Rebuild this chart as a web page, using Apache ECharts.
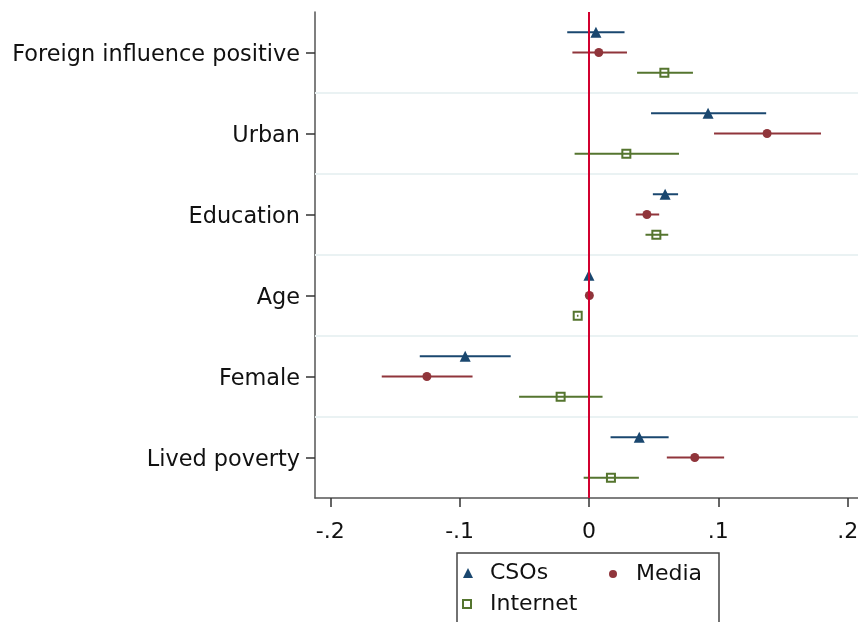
<!DOCTYPE html>
<html>
<head>
<meta charset="utf-8">
<script src="https://cdn.jsdelivr.net/npm/echarts@6/dist/echarts.min.js"></script>
<style>
  html, body { margin: 0; padding: 0; background: #fff; }
  #chart { width: 858px; height: 622px; }
</style>
</head>
<body>
<div id="chart"></div>
<script>
// Coefficient plot: estimates with 95% confidence intervals per predictor
const categories = ['Foreign influence positive', 'Urban', 'Education', 'Age', 'Female', 'Lived poverty'];

const csoCoef  = [0.0054, 0.0921, 0.0589, 0.0000, -0.0957, 0.0389];
const csoLow   = [-0.0168, 0.0480, 0.0494, -0.0006, -0.1308, 0.0167];
const csoHigh  = [0.0275, 0.1370, 0.0689, 0.0006, -0.0605, 0.0616];

const mediaCoef = [0.0076, 0.1377, 0.0448, 0.0003, -0.1253, 0.0818];
const mediaLow  = [-0.0128, 0.0967, 0.0362, -0.0003, -0.1602, 0.0602];
const mediaHigh = [0.0294, 0.1794, 0.0543, 0.0009, -0.0900, 0.1045];

const internetCoef = [0.0583, 0.0289, 0.0521, -0.0087, -0.0219, 0.0170];
const internetLow  = [0.0372, -0.0111, 0.0437, -0.0093, -0.0540, -0.0041];
const internetHigh = [0.0804, 0.0696, 0.0613, -0.0081, 0.0105, 0.0386];

const xTickValues = [-0.2, -0.1, 0, 0.1, 0.2];
const xTickLabels = ['-.2', '-.1', '0', '.1', '.2'];

const FONT = 'DejaVu Sans';
const COLORS = { CSOs: '#1a476f', Media: '#90353b', Internet: '#55752f' };

const groups = [
  { name: 'CSOs', coef: csoCoef, low: csoLow, high: csoHigh, offset: -0.25, symbol: 'triangle', size: 11 },
  { name: 'Media', coef: mediaCoef, low: mediaLow, high: mediaHigh, offset: 0, symbol: 'circle', size: 9 },
  { name: 'Internet', coef: internetCoef, low: internetLow, high: internetHigh, offset: 0.25, symbol: 'emptyRect', size: 8 }
];

function intervalRenderer(color) {
  return function (params, api) {
    const y = api.value(2);
    const a = api.coord([api.value(0), y]);
    const b = api.coord([api.value(1), y]);
    return {
      type: 'line',
      shape: { x1: a[0], y1: a[1], x2: b[0], y2: b[1] },
      style: { stroke: color, lineWidth: 2 }
    };
  };
}

const series = [];

// Group separators and the zero reference line
series.push({
  type: 'scatter',
  name: 'guides',
  data: [],
  silent: true,
  z: 1,
  markLine: {
    silent: true,
    symbol: 'none',
    animation: false,
    label: { show: false },
    data: [1.5, 2.5, 3.5, 4.5, 5.5].map(v => ({ yAxis: v, lineStyle: { color: '#eaf2f3', width: 2, type: 'solid' } }))
      .concat([{ xAxis: 0, lineStyle: { color: '#d2002f', width: 2, type: 'solid' } }])
  }
});

groups.forEach(g => {
  const color = COLORS[g.name];
  series.push({
    type: 'scatter',
    name: g.name,
    symbol: g.symbol,
    symbolSize: g.size,
    z: 2,
    itemStyle: g.symbol === 'emptyRect'
      ? { color: color, borderColor: color, borderWidth: 2, opacity: 1 }
      : { color: color, opacity: 1 },
    data: categories.map((c, i) => [g.coef[i], i + 1 + g.offset])
  });
  series.push({
    type: 'custom',
    name: g.name + ' CI',
    z: 3,
    silent: true,
    renderItem: intervalRenderer(color),
    encode: { x: [0, 1], y: 2 },
    data: categories.map((c, i) => [g.low[i], g.high[i], i + 1 + g.offset])
  });
});

function legendFor(name, left, top, size) {
  return {
    data: [name],
    left: left,
    top: top,
    padding: 0,
    itemWidth: size,
    itemHeight: size,
    itemGap: 0,
    selectedMode: false,
    textStyle: { fontFamily: FONT, fontSize: 22, color: '#111', padding: [0, 0, 0, 22 - size] }
  };
}

const option = {
  animation: false,
  backgroundColor: '#fff',
  grid: { left: 315, top: 12, width: 543, height: 486, containLabel: false, outerBoundsMode: 'none' },
  xAxis: {
    type: 'value',
    min: -0.2118,
    max: 0.208,
    splitLine: { show: false },
    axisLine: { show: true, onZero: false, lineStyle: { color: '#555', width: 1.5 } },
    axisTick: { show: true, customValues: xTickValues, length: 9, lineStyle: { color: '#333', width: 1.5 } },
    axisLabel: {
      customValues: xTickValues,
      margin: 23,
      fontFamily: FONT,
      fontSize: 22,
      color: '#111',
      formatter: function (v) {
        let best = 0;
        xTickValues.forEach((t, i) => { if (Math.abs(t - v) < Math.abs(xTickValues[best] - v)) best = i; });
        return xTickLabels[best];
      }
    }
  },
  yAxis: {
    type: 'value',
    inverse: true,
    min: 0.5,
    max: 6.5,
    splitLine: { show: false },
    axisLine: { show: true, onZero: false, lineStyle: { color: '#555', width: 1.5 } },
    axisTick: { show: true, customValues: [1, 2, 3, 4, 5, 6], length: 9, lineStyle: { color: '#333', width: 1.5 } },
    axisLabel: {
      customValues: [1, 2, 3, 4, 5, 6],
      margin: 15,
      fontFamily: FONT,
      fontSize: 22.4,
      color: '#111',
      formatter: v => '{t|' + categories[Math.round(v) - 1] + '}',
      rich: { t: { fontFamily: FONT, fontSize: 22.4, color: '#111', padding: [6, 0, 0, 0] } }
    }
  },
  legend: [
    legendFor('CSOs', 463, 562, 10),
    legendFor('Media', 609, 563, 8),
    legendFor('Internet', 462, 593, 8)
  ],
  graphic: [{
    type: 'rect',
    silent: true,
    shape: { x: 457, y: 553, width: 262, height: 100 },
    style: { fill: 'none', stroke: '#444', lineWidth: 1.5 }
  }],
  series: series
};

echarts.init(document.getElementById('chart'), null, { renderer: 'canvas' }).setOption(option);
</script>
</body>
</html>
